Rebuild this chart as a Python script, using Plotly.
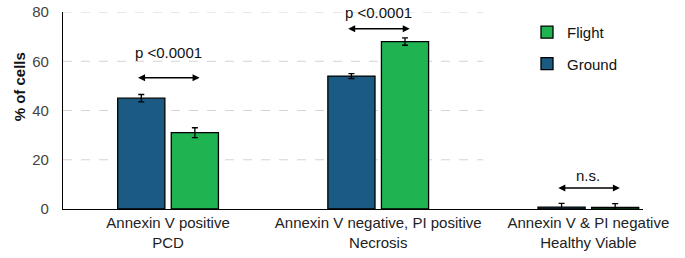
import plotly.graph_objects as go

categories = ["Annexin V positive<br>PCD",
              "Annexin V negative, PI positive<br>Necrosis",
              "Annexin V & PI negative<br>Healthy Viable"]
ground_values = [45, 54, 0.8]
ground_err = [1.5, 1.0, 1.5]
flight_values = [31, 68, 0.7]
flight_err = [2.0, 1.5, 1.5]
sig_labels = ["p <0.0001", "p <0.0001", "n.s."]
sig_arrow_y = [53.3, 73.2, 8.5]
sig_text_y = [63.4, 80.0, 13.8]
y_ticks = [0, 20, 40, 60, 80]

GROUND = "#1B5A83"
FLIGHT = "#1FB352"
FONT = "Arial, Liberation Sans, sans-serif"

xs = list(range(len(categories)))

fig = go.Figure()
fig.add_trace(go.Bar(
    x=xs, y=ground_values, name="Ground", legendgroup="g", legendrank=2,
    marker=dict(color=GROUND, line=dict(color="black", width=1.3)),
    error_y=dict(type="data", array=ground_err, color="black", thickness=1.3, width=3),
))
fig.add_trace(go.Bar(
    x=xs, y=flight_values, name="Flight", legendgroup="f", legendrank=1,
    marker=dict(color=FLIGHT, line=dict(color="black", width=1.3)),
    error_y=dict(type="data", array=flight_err, color="black", thickness=1.3, width=3),
))

shapes = []
for t in y_ticks[1:]:
    shapes.append(dict(type="line", xref="x", yref="y", x0=-0.5, x1=1.5, y0=t, y1=t,
                       line=dict(color="#d4d4d4", width=1, dash="dash"), layer="below"))

annotations = []
for i, (lab, ay, ty) in enumerate(zip(sig_labels, sig_arrow_y, sig_text_y)):
    annotations.append(dict(x=i + 0.15, y=ay, ax=i - 0.15, ay=ay, xref="x", yref="y",
                            axref="x", ayref="y", text="", showarrow=True,
                            arrowhead=2, startarrowhead=2, arrowside="end+start",
                            arrowsize=1, arrowwidth=1.4, arrowcolor="black"))
    annotations.append(dict(x=i, y=ty, xref="x", yref="y", text=lab, showarrow=False,
                            yanchor="middle",
                            font=dict(family=FONT, size=15, color="#111")))
annotations.append(dict(x=0, y=0.62, xref="paper", yref="paper", text="<b>% of cells</b>",
                        textangle=-90, showarrow=False, xshift=-54,
                        font=dict(family=FONT, size=15, color="#111")))

fig.update_layout(
    width=685, height=258,
    margin=dict(l=63, r=42, t=12, b=49, autoexpand=False),
    paper_bgcolor="white", plot_bgcolor="white",
    barmode="group", bargap=0.49, bargroupgap=0.12,
    font=dict(family=FONT, color="#222"),
    showlegend=True,
    legend=dict(x=0.80, y=0.98, xanchor="left", yanchor="top",
                traceorder="grouped", tracegroupgap=9,
                font=dict(family=FONT, size=15, color="#111"),
                bgcolor="rgba(0,0,0,0)"),
    shapes=shapes,
    annotations=annotations,
)
fig.update_xaxes(range=[-0.5, 2.26], tickvals=xs, ticktext=categories,
                 showline=True, linecolor="black", linewidth=1.3, showgrid=False,
                 ticks="", tickfont=dict(family=FONT, size=15, color="#222"),
                 zeroline=False, automargin=False)
fig.update_yaxes(range=[0, 80], tickvals=y_ticks, showline=True, linecolor="black",
                 linewidth=1.3, showgrid=False, zeroline=False, ticks="",
                 ticklabelstandoff=10, automargin=False,
                 tickfont=dict(family=FONT, size=15, color="#444"))

fig.write_html("out.html", config={"displayModeBar": False},
               post_script="document.body.style.margin='0';document.body.style.overflow='hidden';")
